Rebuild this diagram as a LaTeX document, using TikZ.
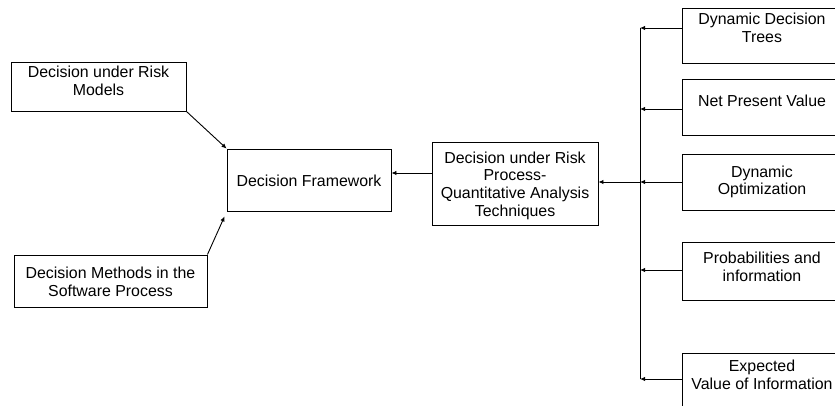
\documentclass[tikz,border=0pt]{standalone}
\usepackage{fontspec}
\setmainfont{Liberation Sans}
\usetikzlibrary{arrows.meta}
\newcommand{\fs}{\fontsize{15.9}{17.6}\selectfont}
\tikzset{
  box/.style={draw, line width=0.9pt, inner sep=0pt, rectangle},
  txt/.style={align=center, font=\fs, inner sep=0pt},
  arr/.style={-{Latex[length=5pt,width=4.5pt]}, line width=0.9pt},
  ln/.style={line width=0.9pt}
}
\begin{document}
\begin{tikzpicture}[x=1pt,y=-1pt]
\clip (0,0) rectangle (835,406);
\fill[white] (0,0) rectangle (835,406);
% left boxes
\node[box, minimum width=175pt, minimum height=49pt] (models) at (98.5,86.5) {};
\node[txt] (modelst) at (98.5,81) {Decision under Risk\\Models};
\node[box, minimum width=193pt, minimum height=52pt] (methods) at (110.5,281) {};
\node[txt] (methodst) at (110.5,282) {Decision Methods in the\\Software Process};
\node[box, minimum width=164pt, minimum height=62pt] (df) at (309,180) {};
\node[txt] (dft) at (309,181) {Decision Framework};
\node[box, minimum width=166pt, minimum height=83pt] (drp) at (515,183.5) {};
\node[txt] (drpt) at (515,185.5) {Decision under Risk\\Process-\\Quantitative Analysis\\Techniques};
% right boxes
\node[box, minimum width=160pt, minimum height=55pt] (ddt) at (762,35.5) {};
\node[txt] (ddtt) at (762,28) {Dynamic Decision\\Trees};
\node[box, minimum width=160pt, minimum height=56pt] (npv) at (762,107) {};
\node[txt] (npvt) at (762,101) {Net Present Value};
\node[box, minimum width=160pt, minimum height=56pt] (dopt) at (762,182) {};
\node[txt] (doptt) at (762,182) {Dynamic\\Optimization};
\node[box, minimum width=160pt, minimum height=58pt] (prob) at (762,271) {};
\node[txt] (probt) at (762,267) {Probabilities and\\information};
\node[box, minimum width=160pt, minimum height=57pt] (evi) at (762,381.5) {};
\node[txt] (evit) at (762,375) {Expected\\Value of Information};
% bus
\coordinate (b1) at (640,28);
\coordinate (b2) at (640,109);
\coordinate (b3) at (640,182);
\coordinate (b4) at (640,270);
\coordinate (b5) at (640,379);
\coordinate (h1) at (0,173);
\draw[ln] (b1) -- (b5);
\draw[arr] (ddt.west |- b1) -- (b1);
\draw[arr] (npv.west |- b2) -- (b2);
\draw[arr] (dopt.west |- b3) -- (b3);
\draw[arr] (prob.west |- b4) -- (b4);
\draw[arr] (evi.west |- b5) -- (b5);
\draw[arr] (b3) -- (drp.east |- b3);
\draw[arr] (drp.west |- h1) -- (df.east |- h1);
\draw[arr] (models.south east) -- (df.north west);
\draw[arr] (methods.north east) -- ([shift={(-2pt,-5pt)}]df.south west);
\end{tikzpicture}
\end{document}
